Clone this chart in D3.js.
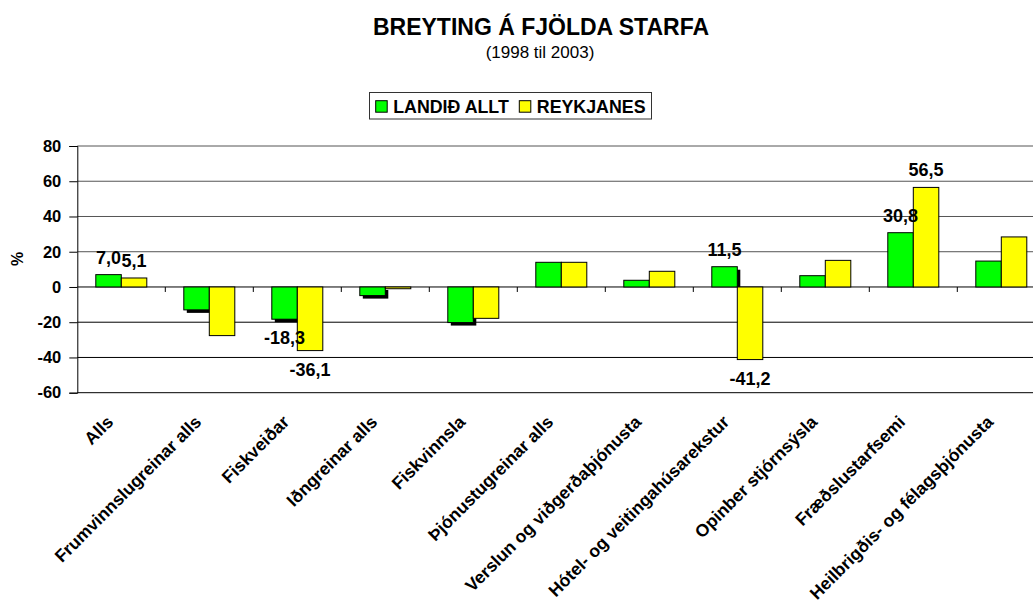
<!DOCTYPE html>
<html>
<head>
<meta charset="utf-8">
<script src="https://cdn.jsdelivr.net/npm/d3@7"></script>
<style>
  body { margin: 0; background: #fff; }
  svg { font-family: "Liberation Sans", Arial, sans-serif; font-weight: bold; }
</style>
</head>
<body>
<div id="chart"></div>
<script>
const categories = ['Alls', 'Frumvinnslugreinar alls', 'Fiskveiðar', 'Iðngreinar alls', 'Fiskvinnsla',
    'Þjónustugreinar alls', 'Verslun og viðgerðaþjónusta', 'Hótel- og veitingahúsarekstur',
    'Opinber stjórnsýsla', 'Fræðslustarfsemi', 'Heilbrigðis- og félagsþjónusta'];
const landidAllt = [7.0, -13.0, -18.3, -4.9, -20.2, 14.0, 3.8, 11.5, 6.4, 30.8, 14.7];
const reykjanes = [5.1, -27.6, -36.1, -1.0, -17.8, 14.0, 8.9, -41.2, 15.1, 56.5, 28.4];
const seriesNames = ['LANDIÐ ALLT', 'REYKJANES'];
const yTicks = [-60, -40, -20, 0, 20, 40, 60, 80];
// categories whose values are written on the bars
const labelled = ['Alls', 'Fiskveiðar', 'Hótel- og veitingahúsarekstur', 'Fræðslustarfsemi'];

const width = 1033;
const height = 605;
const colors = ['#00ff00', '#ffff00'];

const svg = d3.select('#chart').append('svg')
    .attr('width', width)
    .attr('height', height);

// title
svg.append('text')
    .attr('x', 541).attr('y', 35)
    .attr('text-anchor', 'middle')
    .style('font-size', '23px')
    .text('BREYTING Á FJÖLDA STARFA');
svg.append('text')
    .attr('x', 540).attr('y', 58)
    .attr('text-anchor', 'middle')
    .style('font-size', '17px')
    .style('font-weight', 'normal')
    .text('(1998 til 2003)');

// scales
const x = d3.scaleBand()
    .domain(categories)
    .range([77.3, 77.3 + 88 * categories.length]);
const xInner = d3.scaleBand()
    .domain(seriesNames)
    .range([18.5, 69.5]);
const y = d3.scaleLinear()
    .domain([-60, 80])
    .range([392.7, 146]);

const rows = categories.map((c, i) => ({ cat: c, values: [landidAllt[i], reykjanes[i]] }));

// gridlines
svg.append('g').selectAll('line')
    .data(yTicks)
    .enter().append('line')
    .attr('x1', x.range()[0]).attr('x2', x.range()[1])
    .attr('y1', (d) => y(d)).attr('y2', (d) => y(d))
    .attr('stroke', (d) => d > 0 ? '#555' : '#000');

// shadow behind some green bars
const shadowed = ['Frumvinnslugreinar alls', 'Fiskveiðar', 'Iðngreinar alls', 'Fiskvinnsla',
    'Hótel- og veitingahúsarekstur'];

const groups = svg.append('g').selectAll('g')
    .data(rows)
    .enter().append('g')
    .attr('transform', (d) => `translate(${x(d.cat)},0)`);

groups.filter((d) => shadowed.includes(d.cat))
    .append('rect')
    .attr('x', xInner(seriesNames[0]) + 3)
    .attr('y', (d) => Math.min(y(d.values[0]), y(0)) + 3)
    .attr('width', xInner.bandwidth())
    .attr('height', (d) => Math.abs(y(d.values[0]) - y(0)) - (d.values[0] > 0 ? 3 : 0))
    .attr('fill', '#000');

groups.selectAll('rect.bar')
    .data((d) => d.values.map((v, i) => ({ v: v, s: seriesNames[i], i: i })))
    .enter().append('rect')
    .attr('class', 'bar')
    .attr('x', (d) => xInner(d.s))
    .attr('y', (d) => Math.min(y(d.v), y(0)))
    .attr('width', xInner.bandwidth())
    .attr('height', (d) => Math.abs(y(d.v) - y(0)))
    .attr('fill', (d) => colors[d.i])
    .attr('stroke', '#000')
    .attr('stroke-width', 1);

// data labels
const locale = d3.formatLocale({ decimal: ',', thousands: '.', grouping: [3], currency: ['', ''], minus: '-' });
const fmt = locale.format('.1f');

groups.filter((d) => labelled.includes(d.cat))
    .selectAll('text')
    .data((d) => d.values.map((v, i) => ({ v: v, s: seriesNames[i] })))
    .enter().append('text')
    .attr('x', (d) => xInner(d.s) + xInner.bandwidth() / 2)
    .attr('y', (d) => d.v >= 0 ? y(d.v) - 11 : y(d.v) + 25)
    .attr('text-anchor', 'middle')
    .style('font-size', '18px')
    .text((d) => fmt(d.v));

// y axis
const yAxis = d3.axisLeft(y)
    .tickValues(yTicks)
    .tickSize(8)
    .tickPadding(8)
    .tickFormat(locale.format('d'));
const gy = svg.append('g')
    .attr('transform', `translate(${x.range()[0]},0)`)
    .call(yAxis);
gy.select('.domain').attr('stroke', '#000');
gy.selectAll('text')
    .style('font-size', '16.5px')
    .style('font-family', '"Liberation Sans", Arial, sans-serif')
    .style('font-weight', 'bold')
    .attr('fill', '#000');

svg.append('text')
    .attr('transform', 'translate(23,259) rotate(-90)')
    .attr('text-anchor', 'middle')
    .style('font-size', '16px')
    .text('%');

// x axis: ticks at category boundaries on the zero line
const boundaries = categories.slice(1);
svg.append('g').selectAll('line')
    .data(boundaries)
    .enter().append('line')
    .attr('x1', (d) => x(d)).attr('x2', (d) => x(d))
    .attr('y1', y(0)).attr('y2', y(0) + 5)
    .attr('stroke', '#000');

svg.append('g').selectAll('text')
    .data(categories)
    .enter().append('text')
    .attr('transform', (d) => `translate(${x(d) + x.bandwidth() / 2 - 7},423) rotate(-45)`)
    .attr('text-anchor', 'end')
    .style('font-size', '17.5px')
    .text((d) => d);

// legend
const legend = svg.append('g');
legend.append('rect')
    .attr('x', 369.5).attr('y', 92.5)
    .attr('width', 282).attr('height', 26.5)
    .attr('fill', '#fff')
    .attr('stroke', '#333');
const legendX = [375.7, 519.3];
seriesNames.forEach((name, i) => {
    legend.append('rect')
        .attr('x', legendX[i]).attr('y', 100.7)
        .attr('width', 11.5).attr('height', 11.5)
        .attr('fill', colors[i])
        .attr('stroke', '#000');
    legend.append('text')
        .attr('x', legendX[i] + 17.5).attr('y', 113)
        .style('font-size', '17.8px')
        .text(name);
});
</script>
</body>
</html>
